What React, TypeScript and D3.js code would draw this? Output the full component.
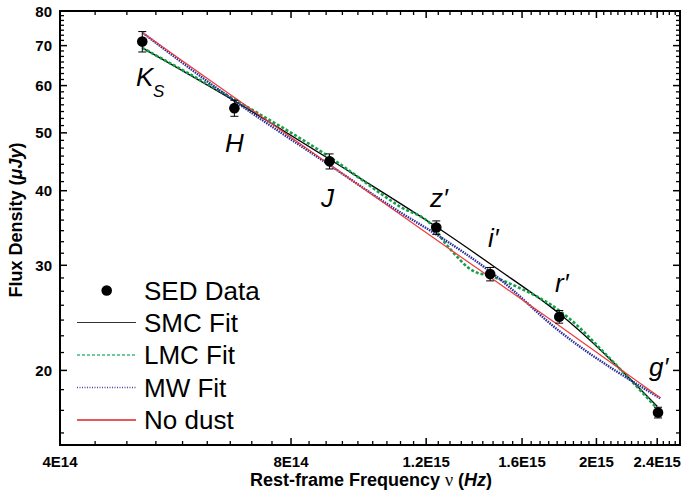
import React from "react";
import * as d3 from "d3";

// ---- data ----
const bands = ["K", "H", "J", "z′", "i′", "r′", "g′"];
const sedFreq = [5.12e14, 6.75e14, 8.98e14, 1.237e15, 1.454e15, 1.789e15, 2.406e15];
const sedFlux = [71.1, 55.0, 44.8, 34.7, 29.0, 24.6, 17.0];
const sedErr = [2.8, 1.7, 1.3, 0.9, 0.75, 0.6, 0.35];

const smcFreq = [5.12e14, 6.76e14, 8.97e14, 1.237e15, 1.474e15, 1.789e15, 2.401e15];
const smcFlux = [69.4, 56.5, 45.2, 34.8, 29.8, 24.9, 17.4];

const lmcFreq = [5.12e14, 6.76e14, 8.97e14, 1.11e15, 1.226e15, 1.263e15, 1.317e15, 1.358e15, 1.403e15, 1.442e15, 1.499e15, 1.577e15, 1.655e15, 1.742e15, 1.832e15, 2.085e15, 2.387e15];
const lmcFlux = [69.4, 56.8, 45.6, 37.6, 34.8, 33.0, 31.0, 29.8, 29.1, 28.9, 28.4, 27.6, 26.8, 25.8, 24.6, 20.9, 17.4];

const mwFreq = [5.13e14, 6.76e14, 8.97e14, 1.11e15, 1.237e15, 1.474e15, 1.795e15, 2.423e15];
const mwFlux = [73.5, 56.5, 44.2, 36.8, 33.8, 28.9, 23.2, 17.96];

const nodustFreq = [5.13e14, 8.97e14, 1.237e15, 1.795e15, 2.423e15];
const nodustFlux = [73.5, 44.3, 33.1, 23.7, 18.0];

const xTicks = [4e14, 8e14, 1.2e15, 1.6e15, 2e15, 2.4e15];
const xTickLabels = ["4E14", "8E14", "1.2E15", "1.6E15", "2E15", "2.4E15"];
const yTicks = [20, 30, 40, 50, 60, 70, 80];
const yTickLabels = ["20", "30", "40", "50", "60", "70", "80"];

const legendItems = ["SED Data", "SMC Fit", "LMC Fit", "MW Fit", "No dust"];

export default function App() {
  const W = 682, H = 493;
  const L = 60, R = 680, T = 11, B = 445;
  const x = d3.scaleLog().domain([4e14, 2.57e15]).range([L, R]);
  const y = d3.scaleLog().domain([15, 80]).range([B, T]);

  // minor ticks
  const xMinor: number[] = [];
  for (let m = 4e14; m < 2.8e15; m += 4e14) {
    for (let k = 1; k <= 8; k++) {
      const v = m + (k * 4e14) / 9;
      if (v <= 2.57e15) xMinor.push(v);
    }
  }
  const yMinor: number[] = [];
  for (let m = 10; m < 80; m += 10) {
    for (let k = 1; k <= 6; k++) {
      const v = m + (k * 10) / 7;
      if (v >= 15 && v <= 80) yMinor.push(v);
    }
  }

  const line = (fs: number[], vs: number[]) =>
    d3
      .line<number>()
      .x((_, i) => x(fs[i]))
      .y((d) => y(d))
      .curve(d3.curveMonotoneX)(vs) || "";

  const font = "Arial, 'Liberation Sans', Helvetica, sans-serif";
  const majLen = 7, minLen = 4;

  const legY = [290.5, 322.5, 355, 387.5, 420];

  return (
    <svg width={W} height={H} style={{ position: "absolute", left: 0, top: 0, background: "#fff" }} fontFamily={font}>
      {/* fits */}
      <path d={line(smcFreq, smcFlux)} fill="none" stroke="#000" strokeWidth={1.3} />
      <path d={line(lmcFreq, lmcFlux)} fill="none" stroke="#13a04a" strokeWidth={2.6} strokeDasharray="3,2" />
      <path d={line(mwFreq, mwFlux)} fill="none" stroke="#2a2d9a" strokeWidth={2.4} strokeDasharray="1.5,1" />
      <path d={line(nodustFreq, nodustFlux)} fill="none" stroke="#f03a3a" strokeWidth={1.2} />

      {/* SED points */}
      {sedFreq.map((f, i) => {
        const cx = x(f);
        const y1 = y(sedFlux[i] + sedErr[i]);
        const y2 = y(sedFlux[i] - sedErr[i]);
        return (
          <g key={i}>
            <line x1={cx} x2={cx} y1={y1} y2={y2} stroke="#000" strokeWidth={1} />
            <line x1={cx - 4} x2={cx + 4} y1={y1} y2={y1} stroke="#000" strokeWidth={1} />
            <line x1={cx - 4} x2={cx + 4} y1={y2} y2={y2} stroke="#000" strokeWidth={1} />
            <circle cx={cx} cy={y(sedFlux[i])} r={5.3} fill="#000" />
          </g>
        );
      })}

      {/* band labels */}
      <g fontStyle="italic" fontSize={26}>
        <text x={136} y={86}>{bands[0]}</text>
        <text x={153} y={97} fontSize={17}>S</text>
        <text x={225} y={152}>{bands[1]}</text>
        <text x={321} y={207}>{bands[2]}</text>
        <text x={430} y={207}>{bands[3]}</text>
        <text x={488} y={247}>{bands[4]}</text>
        <text x={555} y={292}>{bands[5]}</text>
        <text x={649} y={376}>{bands[6]}</text>
      </g>

      {/* frame */}
      <rect x={L} y={T} width={R - L} height={B - T} fill="none" stroke="#000" strokeWidth={2} />

      {/* x ticks bottom/top */}
      {xMinor.map((v, i) => (
        <g key={"xm" + i}>
          <line x1={x(v)} x2={x(v)} y1={B} y2={B - minLen} stroke="#000" strokeWidth={1.3} />
          <line x1={x(v)} x2={x(v)} y1={T} y2={T + minLen} stroke="#000" strokeWidth={1.3} />
        </g>
      ))}
      {xTicks.map((v, i) => (
        <g key={"xM" + i}>
          <line x1={x(v)} x2={x(v)} y1={B} y2={B - majLen} stroke="#000" strokeWidth={1.5} />
          <line x1={x(v)} x2={x(v)} y1={T} y2={T + majLen} stroke="#000" strokeWidth={1.5} />
          <text x={x(v)} y={467} textAnchor="middle" fontWeight="bold" fontSize={15}>{xTickLabels[i]}</text>
        </g>
      ))}

      {/* y ticks left/right */}
      {yMinor.map((v, i) => (
        <g key={"ym" + i}>
          <line x1={L} x2={L + minLen} y1={y(v)} y2={y(v)} stroke="#000" strokeWidth={1.3} />
          <line x1={R} x2={R - minLen} y1={y(v)} y2={y(v)} stroke="#000" strokeWidth={1.3} />
        </g>
      ))}
      {yTicks.map((v, i) => (
        <g key={"yM" + i}>
          <line x1={L} x2={L + majLen} y1={y(v)} y2={y(v)} stroke="#000" strokeWidth={1.5} />
          <line x1={R} x2={R - majLen} y1={y(v)} y2={y(v)} stroke="#000" strokeWidth={1.5} />
          <text x={52} y={y(v) + 5.5} textAnchor="end" fontWeight="bold" fontSize={15}>{yTickLabels[i]}</text>
        </g>
      ))}

      {/* axis titles */}
      <text x={371} y={486} textAnchor="middle" fontWeight="bold" fontSize={18}>
        Rest-frame Frequency <tspan fontFamily="'Liberation Serif', 'Times New Roman', serif" fontWeight="normal">ν</tspan> (<tspan fontStyle="italic">Hz</tspan>)
      </text>
      <text transform={`translate(22,${(T + B) / 2 - 8}) rotate(-90)`} textAnchor="middle" fontWeight="bold" fontSize={18}>
        Flux Density (<tspan fontStyle="italic">μJy</tspan>)
      </text>

      {/* legend */}
      <circle cx={106.7} cy={legY[0]} r={5.3} fill="#000" />
      <line x1={77} x2={136} y1={legY[1]} y2={legY[1]} stroke="#333" strokeWidth={1.2} />
      <line x1={77} x2={136} y1={legY[2]} y2={legY[2]} stroke="#3dbb7a" strokeWidth={1.6} strokeDasharray="3,2" />
      <line x1={77} x2={136} y1={legY[3]} y2={legY[3]} stroke="#4a4aaa" strokeWidth={1.4} strokeDasharray="1,1.5" />
      <line x1={77} x2={136} y1={legY[4]} y2={legY[4]} stroke="#e02020" strokeWidth={1.6} />
      {legendItems.map((t, i) => (
        <text key={t} x={144} y={legY[i] + 9} fontSize={26}>{t}</text>
      ))}
    </svg>
  );
}
